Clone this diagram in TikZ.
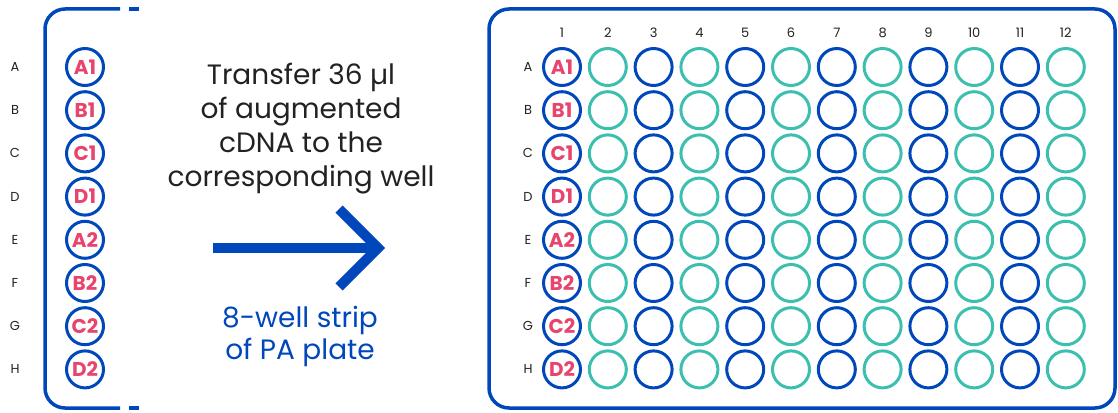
\documentclass[tikz,border=0pt]{standalone}
\usepackage{fontspec}
\setmainfont{Poppins}
\usetikzlibrary{positioning}
\definecolor{plateblue}{HTML}{0047BB}
\definecolor{wellteal}{HTML}{3CBFAE}
\definecolor{wellpink}{HTML}{E8456E}
\definecolor{labelgray}{HTML}{222222}

\begin{document}
\begin{tikzpicture}[x=1pt,y=-1pt,
  well/.style={circle, draw=plateblue, line width=3pt, minimum size=37pt, inner sep=0pt,
    font=\bfseries\fontsize{20}{20}\selectfont, text=wellpink},
  tealwell/.style={well, draw=wellteal},
  rowlab/.style={font=\fontsize{13}{13}\selectfont, text=labelgray},
  platebox/.style={draw=plateblue, line width=3.5pt}]
\useasboundingbox (0,0) rectangle (1118,412);

% strip
\draw[platebox, rounded corners=20pt] (120,9) -- (45,9) -- (45,408) -- (120,408);
\draw[platebox] (129,9) -- (139,9);
\draw[platebox] (129,408) -- (139,408);
\foreach \r/\lab [count=\i from 0] in {A/A1,B/B1,C/C1,D/D1,E/A2,F/B2,G/C2,H/D2} {
  \node[rowlab] (sl\r) at (15,67+43.2*\i) {\r};
  \node[well] (s\r) at (85,67+43.2*\i) {\lab};
}

% text and arrow
\node[font=\fontsize{28}{34}\selectfont, align=center, text=labelgray] (transfer) at (301,129)
  {Transfer 36 µl\\of augmented\\cDNA to the\\corresponding well};
\coordinate (arrS) at (213,248);
\coordinate (arrE) at (378,248);
\draw[plateblue, line width=10pt] (arrS) -- (arrE);
\draw[plateblue, line width=10pt] (339,209) -- (arrE) -- (339,287);
\node[font=\fontsize{28}{32}\selectfont, align=center, text=plateblue] (strip) at (300,336)
  {8-well strip\\of PA plate};

% plate
\draw[platebox, rounded corners=20pt] (489,9) rectangle (1115,408);
\foreach \c in {1,...,12}
  \node[rowlab] (c\c) at (562+45.8*\c-45.8,33) {\c};
\foreach \r/\lab [count=\i from 0] in {A/A1,B/B1,C/C1,D/D1,E/A2,F/B2,G/C2,H/D2} {
  \node[rowlab] (pl\r) at (528,67+43.2*\i) {\r};
  \foreach \c in {1,...,12} {
    \ifodd\c \def\ws{well}\else \def\ws{tealwell}\fi
    \node[\ws] (w\r\c) at (562+45.8*\c-45.8,67+43.2*\i) {\ifnum\c=1 \lab\fi};
  }
}
\end{tikzpicture}
\end{document}
